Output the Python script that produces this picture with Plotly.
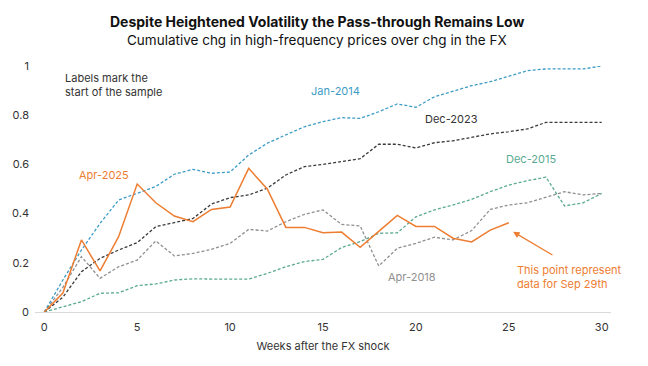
import plotly.graph_objects as go

weeks = list(range(31))

jan2014 = [0, 0.13, 0.252, 0.36, 0.455, 0.482, 0.51, 0.56, 0.58, 0.564, 0.569, 0.638,
           0.686, 0.72, 0.753, 0.774, 0.79, 0.787, 0.814, 0.846, 0.832, 0.875, 0.896,
           0.92, 0.936, 0.959, 0.981, 0.988, 0.988, 0.988, 1.0]
dec2023 = [0, 0.06, 0.164, 0.218, 0.252, 0.282, 0.347, 0.363, 0.38, 0.439, 0.465, 0.476,
           0.503, 0.557, 0.591, 0.60, 0.611, 0.623, 0.682, 0.682, 0.667, 0.688, 0.696,
           0.71, 0.724, 0.733, 0.744, 0.771, 0.771, 0.771, 0.771]
dec2015 = [0, 0.02, 0.042, 0.076, 0.078, 0.107, 0.114, 0.13, 0.135, 0.134, 0.134, 0.134,
           0.157, 0.184, 0.205, 0.214, 0.262, 0.286, 0.32, 0.322, 0.387, 0.415, 0.435,
           0.458, 0.489, 0.516, 0.534, 0.548, 0.431, 0.444, 0.482]
apr2018 = [0, 0.10, 0.225, 0.137, 0.184, 0.211, 0.289, 0.228, 0.238, 0.255, 0.279, 0.336,
           0.329, 0.367, 0.397, 0.415, 0.356, 0.35, 0.187, 0.259, 0.279, 0.304, 0.293,
           0.331, 0.417, 0.435, 0.444, 0.466, 0.489, 0.476, 0.482]
weeks_2025 = list(range(26))
apr2025 = [0, 0.077, 0.293, 0.167, 0.306, 0.52, 0.444, 0.39, 0.367, 0.417, 0.427, 0.584,
           0.50, 0.344, 0.344, 0.322, 0.325, 0.263, 0.328, 0.393, 0.348, 0.348, 0.30,
           0.285, 0.333, 0.363]

x_ticks = [0, 5, 10, 15, 20, 25, 30]
y_ticks = [0, 0.2, 0.4, 0.6, 0.8, 1]
y_tick_text = ["0", "0.2", "0.4", "0.6", "0.8", "1"]

C_BLUE = "#3d9cc6"
C_BLACK = "#3a3a3a"
C_TEAL = "#5aaa92"
C_GRAY = "#8f8f8f"
C_ORANGE = "#ed7d31"
FONT = "Inter"
DASH = "3px,2px"

fig = go.Figure()
fig.add_trace(go.Scatter(x=weeks, y=dec2015, mode="lines", name="Dec-2015",
                         line=dict(color=C_TEAL, width=1.3, dash=DASH)))
fig.add_trace(go.Scatter(x=weeks, y=apr2018, mode="lines", name="Apr-2018",
                         line=dict(color=C_GRAY, width=1.3, dash=DASH)))
fig.add_trace(go.Scatter(x=weeks, y=dec2023, mode="lines", name="Dec-2023",
                         line=dict(color=C_BLACK, width=1.3, dash=DASH)))
fig.add_trace(go.Scatter(x=weeks, y=jan2014, mode="lines", name="Jan-2014",
                         line=dict(color=C_BLUE, width=1.3, dash=DASH)))
fig.add_trace(go.Scatter(x=weeks_2025, y=apr2025, mode="lines", name="Apr-2025",
                         line=dict(color=C_ORANGE, width=1.5)))

W, H = 648, 366
L, R, T, B = 34.7, 36.7, 66, 54
pw, ph = W - L - R, H - T - B

def px(xp, yp):
    return ((xp - L) / pw, (H - B - yp) / ph)

def lab(text, xp, yp, color, xanchor="center", size=11, bold=False):
    xx, yy = px(xp, yp)
    fig.add_annotation(text=text, x=xx, y=yy, xref="paper", yref="paper",
                       showarrow=False, xanchor=xanchor, yanchor="middle",
                       font=dict(family=FONT, size=size, color=color), align="left")

lab("Jan-2014", 336, 91, C_BLUE)
lab("Dec-2023", 452, 119, "#333333")
lab("Dec-2015", 531, 159, C_TEAL)
lab("Apr-2025", 104, 175, C_ORANGE)
lab("Apr-2018", 412, 277, C_GRAY)
lab("Labels mark the<br>start of the sample", 63, 85.5, "#333333", "left")
lab("This point represent<br>data for Sep 29th", 515, 277, C_ORANGE, "left")

# arrow pointing to last Apr-2025 point
fig.add_annotation(x=25.23, y=0.326, ax=27.43, ay=0.228, xref="x", yref="y",
                   axref="x", ayref="y", text="", showarrow=True, arrowhead=2,
                   arrowsize=1, arrowwidth=1.3, arrowcolor=C_ORANGE)

lab("<b>Despite Heightened Volatility the Pass-through Remains Low</b>", 317, 21,
    "#111111", "center", 14)
lab("Cumulative chg in high-frequency prices over chg in the FX", 317, 40,
    "#111111", "center", 13.5)

fig.update_layout(
    width=W, height=H,
    margin=dict(l=L, r=R, t=T, b=B),
    paper_bgcolor="white", plot_bgcolor="white",
    showlegend=False,
    font=dict(family=FONT, size=11, color="#333333"),
    xaxis=dict(range=[-0.5, 30.5], tickvals=x_ticks, showgrid=False, zeroline=False,
               showline=True, linecolor="#d9d9d9", linewidth=1, ticks="",
               ticklabelstandoff=5,
               tickfont=dict(size=11, color="#333333"),
               title=dict(text="Weeks after the FX shock", font=dict(size=11, color="#333333"),
                          standoff=9)),
    yaxis=dict(range=[0, 1], tickvals=y_ticks, ticktext=y_tick_text, showgrid=False,
               zeroline=False, showline=False, ticks="", ticklabelstandoff=5,
               tickfont=dict(size=11, color="#333333")),
)

fig.write_html("out.html")
